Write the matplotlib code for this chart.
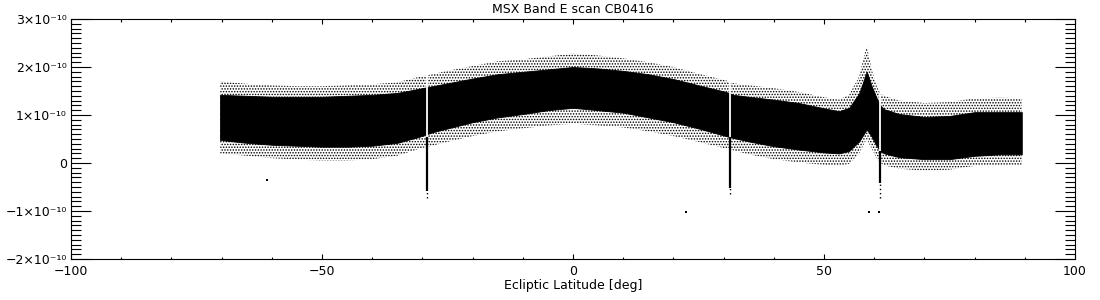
import numpy as np
import matplotlib
matplotlib.use("Agg")
import matplotlib.pyplot as plt
from matplotlib.ticker import MultipleLocator, FixedLocator, FuncFormatter

# ---- data (signal in units of 1e-10) ----
lat = [-70.3, -65, -60, -55, -50, -45, -40, -35, -30.5, -28, -25, -20, -15, -10, -5,
       0, 5, 10, 15, 20, 25, 30.5, 32, 35, 40, 45, 50, 53, 55, 57, 58.5, 59.5, 60.5,
       61.2, 62, 65, 70, 75, 80, 85, 89.4]
core_top = [1.42, 1.40, 1.38, 1.38, 1.38, 1.40, 1.42, 1.46, 1.55, 1.60, 1.66, 1.76, 1.85,
            1.90, 1.95, 2.00, 1.97, 1.92, 1.85, 1.75, 1.62, 1.48, 1.42, 1.38, 1.32, 1.25,
            1.14, 1.08, 1.15, 1.45, 1.90, 1.60, 1.35, 1.20, 1.12, 1.02, 0.96, 0.98, 1.06,
            1.06, 1.06]
core_bot = [0.48, 0.42, 0.38, 0.36, 0.34, 0.34, 0.36, 0.42, 0.55, 0.64, 0.72, 0.85, 0.95,
            1.02, 1.10, 1.15, 1.10, 1.05, 0.95, 0.85, 0.72, 0.56, 0.52, 0.45, 0.35, 0.28,
            0.22, 0.20, 0.25, 0.45, 0.70, 0.55, 0.35, 0.25, 0.20, 0.12, 0.08, 0.08, 0.15,
            0.18, 0.18]
outer_top = [1.70, 1.65, 1.62, 1.60, 1.60, 1.62, 1.64, 1.68, 1.80, 1.85, 1.92, 2.02, 2.12,
             2.16, 2.22, 2.28, 2.24, 2.18, 2.10, 2.00, 1.86, 1.72, 1.66, 1.62, 1.56, 1.48,
             1.37, 1.32, 1.42, 1.80, 2.45, 1.95, 1.60, 1.45, 1.40, 1.30, 1.25, 1.27, 1.35,
             1.36, 1.35]
outer_bot = [0.20, 0.15, 0.10, 0.07, 0.05, 0.05, 0.08, 0.15, 0.30, 0.36, 0.44, 0.56, 0.66,
             0.72, 0.78, 0.82, 0.78, 0.74, 0.66, 0.56, 0.44, 0.30, 0.26, 0.18, 0.08, 0.01,
             -0.04, -0.06, -0.02, 0.20, 0.50, 0.30, 0.10, 0.00, -0.05, -0.12, -0.16, -0.14,
             -0.06, -0.04, -0.04]

spike_lat = [-29.1, 31.3, 61.2]
spike_top = [0.55, 0.55, 0.25]
spike_low = [-0.58, -0.52, -0.42]
spike_tail = [-0.73, -0.65, -0.73]
gap_top = [1.95, 1.80, 1.45]

outlier_lat = [22.5, 58.9, 61.0, -61.0]
outlier_val = [-1.03, -1.03, -1.03, -0.36]

xticks = [-100, -50, 0, 50, 100]
yticks = [-2, -1, 0, 1, 2, 3]   # units of 1e-10

scale = 1e-10
s = lambda v: np.asarray(v, dtype=float) * scale

plt.rcParams['hatch.linewidth'] = 0.7

fig = plt.figure(figsize=(11, 3), dpi=100)
ax = fig.add_axes([71/1100, 41/300, 1004/1100, 240/300])

ax.fill_between(lat, s(outer_bot), s(outer_top), facecolor='white', edgecolor='black',
                hatch='......', linewidth=0)
ax.fill_between(lat, s(core_bot), s(core_top), color='black', linewidth=0.6)

ax.vlines(spike_lat, s(spike_low), s(spike_top), color='black', lw=1.6)
ax.vlines(spike_lat, s(spike_tail), s(spike_low), color='black', lw=1.0, linestyles=(0, (1, 2)))
ax.vlines(spike_lat, s(spike_top), s(gap_top), color='white', lw=1.3)
ax.scatter(outlier_lat, s(outlier_val), s=1.5, color='black', marker='s', linewidths=0)

ax.set_xlim(-100, 100)
ax.set_ylim(-2e-10, 3e-10)

ax.xaxis.set_major_locator(FixedLocator(xticks))
ax.xaxis.set_minor_locator(MultipleLocator(10))
ax.yaxis.set_major_locator(FixedLocator(list(s(yticks))))
ax.yaxis.set_minor_locator(MultipleLocator(1e-11))

def yfmt(v, pos):
    n = int(round(v / 1e-10))
    if n == 0:
        return '0'
    sign = '\u2212' if n < 0 else ''
    return '%s%d\u00d710\u207b\u00b9\u2070' % (sign, abs(n))

def xfmt(v, pos):
    n = int(round(v))
    return ('\u2212%d' % -n) if n < 0 else '%d' % n

ax.yaxis.set_major_formatter(FuncFormatter(yfmt))
ax.xaxis.set_major_formatter(FuncFormatter(xfmt))

ax.tick_params(axis='both', which='both', direction='in', top=True, right=True,
               labelsize=9, width=0.8, colors='black')
ax.tick_params(axis='x', which='major', length=3.5, pad=4)
ax.tick_params(axis='x', which='minor', length=1.8)
ax.tick_params(axis='y', which='major', length=14.4, pad=3)
ax.tick_params(axis='y', which='minor', length=7.2)
for sp in ax.spines.values():
    sp.set_linewidth(0.8)

ax.set_xlabel('Ecliptic Latitude [deg]', fontsize=9, labelpad=1)
ax.set_title('MSX Band E scan CB0416', fontsize=9, pad=4)

fig.savefig('out.png', dpi=100, facecolor='white')
